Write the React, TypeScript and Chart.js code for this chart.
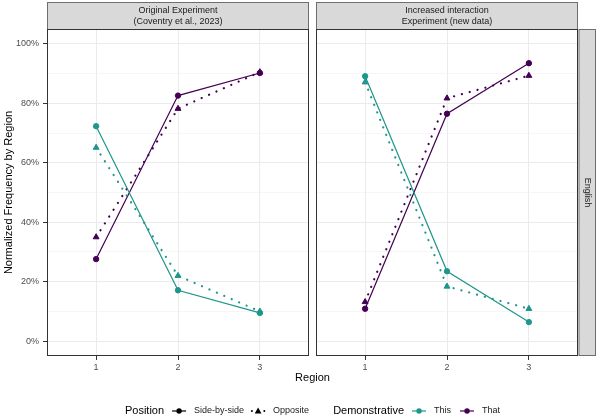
import React, { useEffect, useRef } from "react";
import { Chart, registerables } from "chart.js";

Chart.register(...registerables);

// ---------------- data ----------------
const regions = [1, 2, 3];
const yTickValues = [0, 0.1, 0.2, 0.3, 0.4, 0.5, 0.6, 0.7, 0.8, 0.9, 1.0];
const panelTitles = [
  ["Original Experiment", "(Coventry et al., 2023)"],
  ["Increased interaction", "Experiment (new data)"],
];
const rowStrip = "English";
const xAxisTitle = "Region";
const yAxisTitle = "Normalized Frequency by Region";
const positionTitle = "Position";
const positionLabels = ["Side-by-side", "Opposite"];
const demonstrativeTitle = "Demonstrative";
const demonstrativeLabels = ["This", "That"];

// Panel 1: Original Experiment
const origThisSide = [0.723, 0.171, 0.095];
const origThisOpp = [0.651, 0.22, 0.1];
const origThatSide = [0.276, 0.826, 0.902];
const origThatOpp = [0.35, 0.782, 0.905];
// Panel 2: Increased interaction
const newThisSide = [0.891, 0.235, 0.064];
const newThisOpp = [0.871, 0.184, 0.109];
const newThatSide = [0.109, 0.765, 0.935];
const newThatOpp = [0.132, 0.817, 0.893];

// ---------------- styles ----------------
const TEAL = "#1f968b";
const PURPLE = "#440154";
const FONT = "'Liberation Sans', Arial, sans-serif";
const W = 600;
const H = 418;

const isMajor = (v: number) => Math.round(v * 10) % 2 === 0;

function series(vals: number[], color: string, dotted: boolean) {
  return {
    data: regions.map((r, i) => ({ x: r, y: vals[i] })),
    borderColor: color,
    backgroundColor: color,
    borderWidth: dotted ? 2.2 : 1.2,
    borderDash: dotted ? [0.1, 8] : [],
    borderCapStyle: dotted ? "round" : "butt",
    pointStyle: dotted ? "triangle" : "circle",
    pointRadius: dotted ? 3.4 : 2.7,
    pointBorderWidth: 1,
    pointBackgroundColor: color,
    pointBorderColor: color,
    pointHoverRadius: dotted ? 3.4 : 2.7,
    tension: 0,
    fill: false,
  };
}

function xScale() {
  return {
    type: "linear",
    min: 0.4,
    max: 3.6,
    afterBuildTicks: (s: any) => {
      s.ticks = regions.map((v) => ({ value: v }));
    },
    afterFit: (s: any) => {
      s.height = 20;
    },
    grid: {
      color: "#ebebeb",
      lineWidth: 1,
      tickColor: "#333333",
      tickLength: 4,
      drawTicks: true,
    },
    border: { display: false },
    ticks: {
      color: "#4d4d4d",
      font: { size: 9, family: FONT },
      padding: 2,
      maxRotation: 0,
      autoSkip: false,
      callback: (v: any) => String(v),
    },
  };
}

function yScale(show: boolean) {
  return {
    type: "linear",
    min: -0.05,
    max: 1.05,
    afterBuildTicks: (s: any) => {
      s.ticks = yTickValues.map((v) => ({ value: v }));
    },
    afterFit: (s: any) => {
      s.width = show ? 47 : 0;
    },
    grid: {
      color: (ctx: any) =>
        ctx.tick && !isMajor(ctx.tick.value) ? "#f0f0f0" : "#ebebeb",
      lineWidth: (ctx: any) => (ctx.tick && !isMajor(ctx.tick.value) ? 0.6 : 1),
      tickColor: (ctx: any) =>
        show && ctx.tick && isMajor(ctx.tick.value) ? "#333333" : "rgba(0,0,0,0)",
      tickLength: 4,
      drawTicks: show,
    },
    border: { display: false },
    ticks: {
      display: show,
      color: "#4d4d4d",
      font: { size: 9, family: FONT },
      padding: 4,
      autoSkip: false,
      callback: (v: any) => (isMajor(v) ? Math.round(v * 100) + "%" : ""),
    },
  };
}

function drawPanelDecor(chart: any, panel: number) {
  const { ctx, chartArea: a } = chart;
  const L = Math.round(a.left) + 0.5;
  const R = Math.round(a.right) - 0.5;
  const T = Math.round(a.top) + 0.5;
  const B = Math.round(a.bottom) - 0.5;
  ctx.save();
  // top strip
  const sTop = 2.5;
  ctx.fillStyle = "#d9d9d9";
  ctx.fillRect(L, sTop, R - L, T - sTop);
  ctx.strokeStyle = "#6e6e6e";
  ctx.lineWidth = 1;
  ctx.strokeRect(L, sTop, R - L, T - sTop);
  ctx.fillStyle = "#1a1a1a";
  ctx.font = `9px ${FONT}`;
  ctx.textAlign = "center";
  ctx.textBaseline = "middle";
  const cx = (L + R) / 2;
  ctx.fillText(panelTitles[panel][0], cx, 11);
  ctx.fillText(panelTitles[panel][1], cx, 21.5);
  // panel border
  ctx.strokeStyle = "#333333";
  ctx.strokeRect(L, T, R - L, B - T);

  if (panel === 1) {
    // right strip
    const sL = R + 1.5;
    const sR = 595.5;
    ctx.fillStyle = "#d9d9d9";
    ctx.fillRect(sL, T, sR - sL, B - T);
    ctx.strokeStyle = "#6e6e6e";
    ctx.strokeRect(sL, T, sR - sL, B - T);
    ctx.fillStyle = "#1a1a1a";
    ctx.translate((sL + sR) / 2, (T + B) / 2);
    ctx.rotate(Math.PI / 2);
    ctx.fillText(rowStrip, 0, 0);
  }
  ctx.restore();
}

function drawGlobalDecor(chart: any) {
  const { ctx, chartArea: a } = chart;
  ctx.save();
  ctx.fillStyle = "#000000";
  ctx.textAlign = "center";
  ctx.textBaseline = "middle";
  // y axis title
  ctx.font = `11px ${FONT}`;
  ctx.save();
  ctx.translate(9, (a.top + a.bottom) / 2);
  ctx.rotate(-Math.PI / 2);
  ctx.fillText(yAxisTitle, 0, 0);
  ctx.restore();
  // x axis title
  ctx.fillText(xAxisTitle, 312.5, 378);

  // legend
  const ly = 411;
  ctx.textAlign = "left";
  const big = `11px ${FONT}`;
  const small = `9px ${FONT}`;
  const keyW = 14;
  type Item = { kind: string; text: string; font: string; color?: string; gapAfter: number };
  const items: Item[] = [
    { kind: "title", text: positionTitle, font: big, gapAfter: 8 },
    { kind: "solid", text: positionLabels[0], font: small, color: "#000000", gapAfter: 7 },
    { kind: "dotted", text: positionLabels[1], font: small, color: "#000000", gapAfter: 24 },
    { kind: "title", text: demonstrativeTitle, font: big, gapAfter: 8 },
    { kind: "solid", text: demonstrativeLabels[0], font: small, color: TEAL, gapAfter: 9 },
    { kind: "solid", text: demonstrativeLabels[1], font: small, color: PURPLE, gapAfter: 0 },
  ];
  // measure total width
  let total = 0;
  for (const it of items) {
    ctx.font = it.font;
    const tw = ctx.measureText(it.text).width;
    total += (it.kind === "title" ? 0 : keyW + 8) + tw + it.gapAfter;
  }
  let x = 312.5 - total / 2;
  for (const it of items) {
    if (it.kind !== "title") {
      const c = it.color as string;
      ctx.strokeStyle = c;
      ctx.fillStyle = c;
      const mid = x + keyW / 2;
      if (it.kind === "solid") {
        ctx.lineWidth = 1.2;
        ctx.beginPath();
        ctx.moveTo(x, ly);
        ctx.lineTo(x + keyW, ly);
        ctx.stroke();
        ctx.beginPath();
        ctx.arc(mid, ly, 2.7, 0, Math.PI * 2);
        ctx.fill();
      } else {
        ctx.beginPath();
        ctx.arc(x + 0.8, ly, 1, 0, Math.PI * 2);
        ctx.arc(x + keyW - 0.8, ly, 1, 0, Math.PI * 2);
        ctx.fill();
        ctx.beginPath();
        ctx.moveTo(mid, ly - 3.6);
        ctx.lineTo(mid + 3.4, ly + 2.4);
        ctx.lineTo(mid - 3.4, ly + 2.4);
        ctx.closePath();
        ctx.fill();
      }
      x += keyW + 8;
    }
    ctx.font = it.font;
    ctx.fillStyle = it.kind === "title" ? "#000000" : "#1a1a1a";
    ctx.fillText(it.text, x, ly);
    x += ctx.measureText(it.text).width + it.gapAfter;
  }
  ctx.restore();
}

function buildConfig(panel: number) {
  const first = panel === 0;
  const sets = first
    ? [
        series(origThisSide, TEAL, false),
        series(origThisOpp, TEAL, true),
        series(origThatSide, PURPLE, false),
        series(origThatOpp, PURPLE, true),
      ]
    : [
        series(newThisSide, TEAL, false),
        series(newThisOpp, TEAL, true),
        series(newThatSide, PURPLE, false),
        series(newThatOpp, PURPLE, true),
      ];
  return {
    type: "line",
    data: { datasets: sets },
    options: {
      responsive: false,
      animation: false,
      devicePixelRatio: 1,
      events: [],
      layout: {
        padding: first
          ? { left: 0, right: W - 309, top: 29, bottom: 42 }
          : { left: 316, right: W - 578, top: 29, bottom: 42 },
      },
      scales: { x: xScale(), y: yScale(first) },
      plugins: { legend: { display: false }, tooltip: { enabled: false } },
    },
    plugins: [
      {
        id: "decor" + panel,
        afterDraw(chart: any) {
          drawPanelDecor(chart, panel);
          if (first) drawGlobalDecor(chart);
        },
      },
    ],
  };
}

export default function App() {
  const ref1 = useRef<HTMLCanvasElement>(null);
  const ref2 = useRef<HTMLCanvasElement>(null);
  useEffect(() => {
    const c1 = new Chart(ref1.current as HTMLCanvasElement, buildConfig(0) as any);
    const c2 = new Chart(ref2.current as HTMLCanvasElement, buildConfig(1) as any);
    return () => {
      c1.destroy();
      c2.destroy();
    };
  }, []);
  const cs: React.CSSProperties = { position: "absolute", left: 0, top: 0, width: W, height: H };
  return (
    <div style={{ position: "fixed", left: 0, top: 0, width: W, height: H, background: "#ffffff" }}>
      <canvas ref={ref1} width={W} height={H} style={cs} />
      <canvas ref={ref2} width={W} height={H} style={cs} />
    </div>
  );
}
